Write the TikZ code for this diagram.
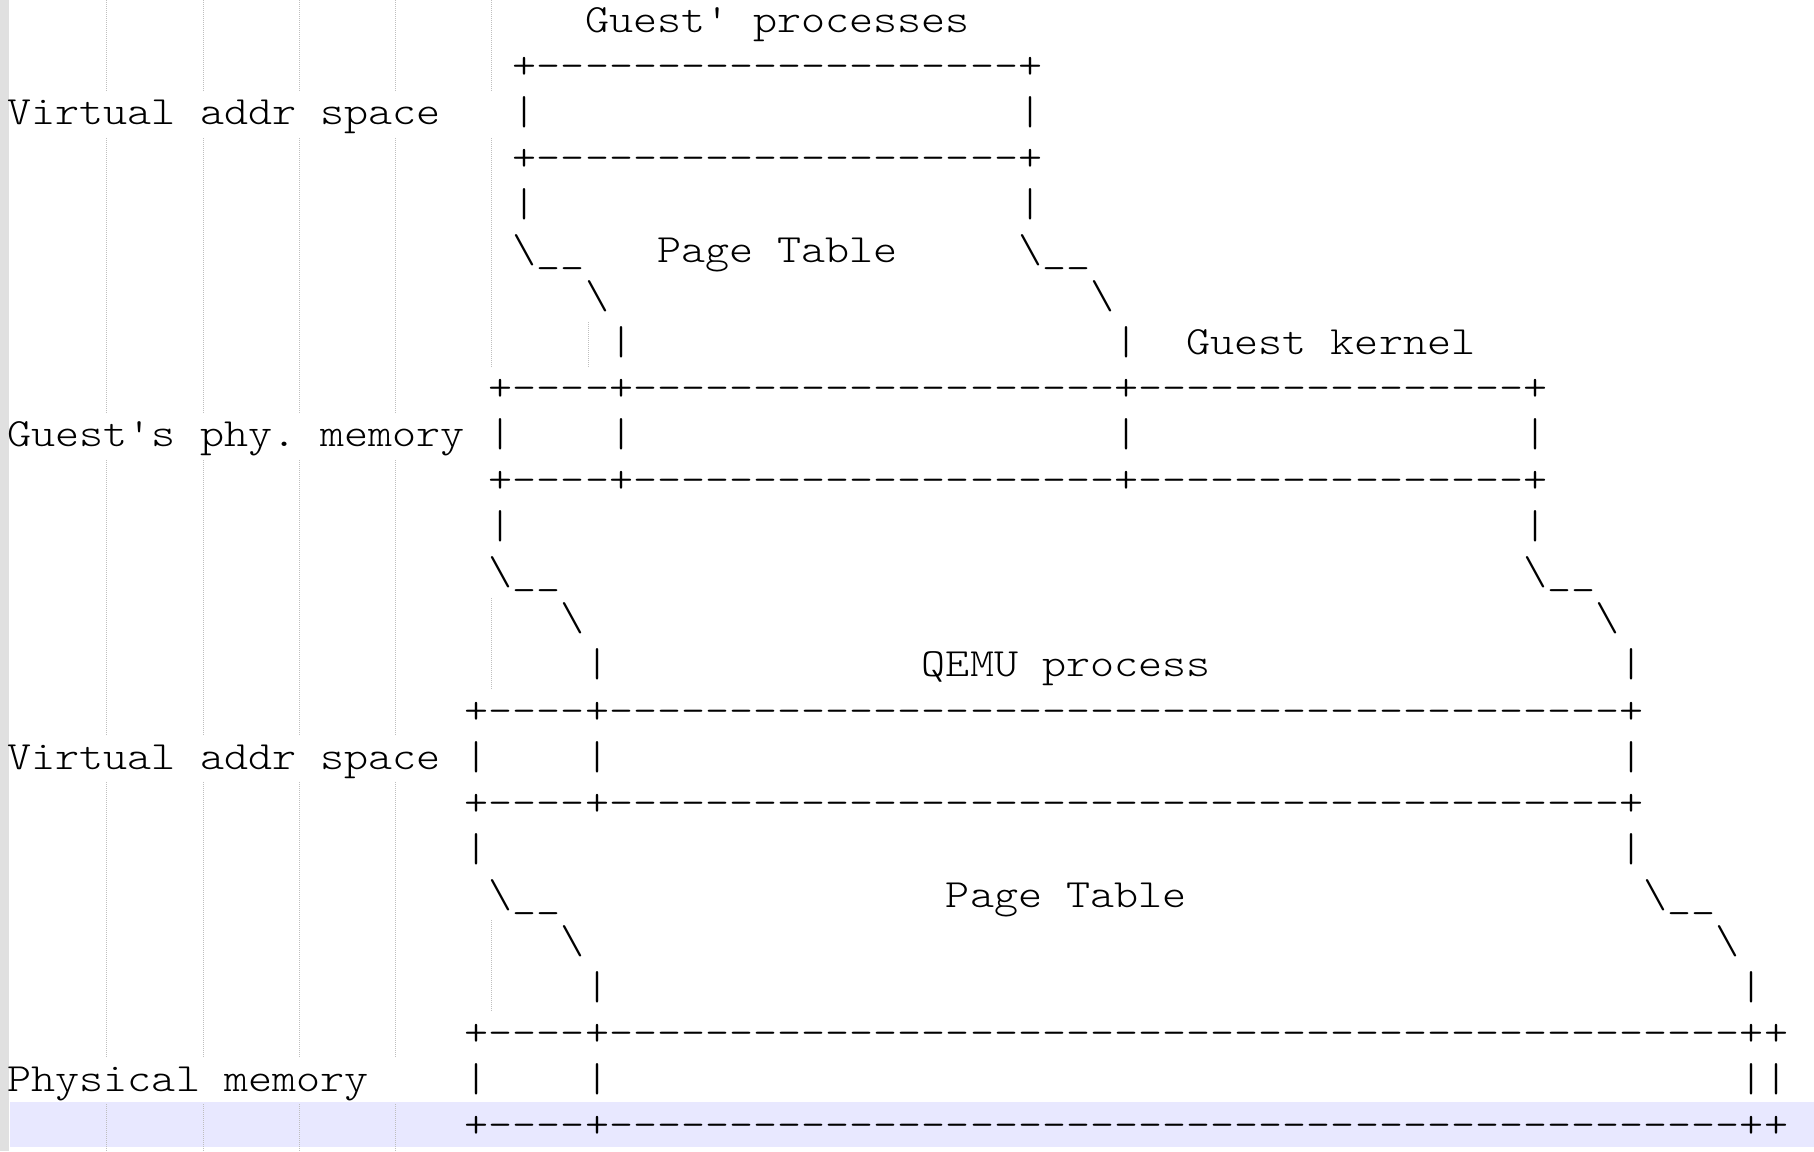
\documentclass[tikz,border=0pt]{standalone}
\usepackage{fontspec}
\setmonofont{lmmonolt10-regular.otf}[FakeStretch=1.1429]
\usepackage{xcolor}
\definecolor{gutter}{RGB}{224,224,224}
\definecolor{currentline}{RGB}{232,232,255}
\definecolor{guidegray}{RGB}{190,190,190}
\newcommand{\skipcols}[1]{\hspace*{#1\fontcharwd\font`M}}
\newcommand{\dashrun}[1]{\foreach \d in {1,...,#1}{-}}
\newcommand{\slant}{\textbackslash\_\_}
\tikzstyle{ascii}=[anchor=base west, inner sep=0pt, outer sep=0pt, font=\ttfamily\fontsize{20.05pt}{23pt}\selectfont\frenchspacing]
\tikzstyle{guide}=[draw=guidegray, line width=0.5pt, dash pattern=on 0.5pt off 0.5pt]

\begin{document}
\begin{tikzpicture}[x=12.03pt, y=-23pt]
  \useasboundingbox (-0.316,-0.717) rectangle (75.079,24.305);
  %% Editor things
  \fill[gutter] (-0.316,-0.717) rectangle (0.058,24.305);
  \fill[currentline] (0.1,23.24) rectangle (75.079,24.22);
  \draw[guide] (4.13,-0.717) -- (4.13,1.283) (4.13,2.283) -- (4.13,8.283) (4.13,9.283) -- (4.13,15.283) (4.13,16.283) -- (4.13,22.283) (4.13,23.283) -- (4.13,24.305);
  \draw[guide] (8.13,-0.717) -- (8.13,1.283) (8.13,2.283) -- (8.13,8.283) (8.13,9.283) -- (8.13,15.283) (8.13,16.283) -- (8.13,22.283) (8.13,23.283) -- (8.13,24.305);
  \draw[guide] (12.13,-0.717) -- (12.13,1.283) (12.13,2.283) -- (12.13,8.283) (12.13,9.283) -- (12.13,15.283) (12.13,16.283) -- (12.13,22.283) (12.13,23.283) -- (12.13,24.305);
  \draw[guide] (16.13,-0.717) -- (16.13,1.283) (16.13,2.283) -- (16.13,8.283) (16.13,9.283) -- (16.13,15.283) (16.13,16.283) -- (16.13,22.283) (16.13,23.283) -- (16.13,24.305);
  \draw[guide] (20.13,-0.717) -- (20.13,1.283) (20.13,2.283) -- (20.13,7.283) (20.13,12.283) -- (20.13,14.283) (20.13,19.283) -- (20.13,21.283);
  \draw[guide] (24.13,6.283) -- (24.13,7.283);

  %% Guest processes
  \draw (24,0) node[ascii] (gproc) {Guest' processes};
  \draw (21,1) node[ascii] (gvtop) {+\dashrun{20}+};
  \draw (0,2) node[ascii] (gvlabel) {Virtual addr space};
  \draw (21,2) node[ascii] (gvside) {|\skipcols{20}|};
  \draw (21,3) node[ascii] (gvbot) {+\dashrun{20}+};
  \draw (21,4) node[ascii] (gptA) {|\skipcols{20}|};
  \draw (21,5) node[ascii] (gptB) {\slant\skipcols{18}\slant};
  \draw (27,5) node[ascii] (gptlabel) {Page Table};
  \draw (24,6) node[ascii] (gptC) {\textbackslash\skipcols{20}\textbackslash};
  \draw (25,7) node[ascii] (gptD) {|\skipcols{20}|};
  \draw (49,7) node[ascii] (gkernel) {Guest kernel};

  %% Guest physical memory
  \draw (20,8) node[ascii] (gptop) {+\dashrun{4}+\dashrun{20}+\dashrun{16}+};
  \draw (0,9) node[ascii] (gplabel) {Guest's phy. memory};
  \draw (20,9) node[ascii] (gpside) {|\skipcols{4}|\skipcols{20}|\skipcols{16}|};
  \draw (20,10) node[ascii] (gpbot) {+\dashrun{4}+\dashrun{20}+\dashrun{16}+};
  \draw (20,11) node[ascii] (qptA) {|\skipcols{42}|};
  \draw (20,12) node[ascii] (qptB) {\slant\skipcols{40}\slant};
  \draw (23,13) node[ascii] (qptC) {\textbackslash\skipcols{42}\textbackslash};
  \draw (24,14) node[ascii] (qptD) {|\skipcols{42}|};
  \draw (38,14) node[ascii] (qproc) {QEMU process};

  %% QEMU virtual addr space
  \draw (19,15) node[ascii] (qvtop) {+\dashrun{4}+\dashrun{42}+};
  \draw (0,16) node[ascii] (qvlabel) {Virtual addr space};
  \draw (19,16) node[ascii] (qvside) {|\skipcols{4}|\skipcols{42}|};
  \draw (19,17) node[ascii] (qvbot) {+\dashrun{4}+\dashrun{42}+};
  \draw (19,18) node[ascii] (hptA) {|\skipcols{47}|};
  \draw (20,19) node[ascii] (hptB) {\slant\skipcols{45}\slant};
  \draw (39,19) node[ascii] (hptlabel) {Page Table};
  \draw (23,20) node[ascii] (hptC) {\textbackslash\skipcols{47}\textbackslash};
  \draw (24,21) node[ascii] (hptD) {|\skipcols{47}|};

  %% Physical memory
  \draw (19,22) node[ascii] (pmtop) {+\dashrun{4}+\dashrun{47}++};
  \draw (0,23) node[ascii] (pmlabel) {Physical memory};
  \draw (19,23) node[ascii] (pmside) {|\skipcols{4}|\skipcols{47}||};
  \draw (19,24) node[ascii] (pmbot) {+\dashrun{4}+\dashrun{47}++};
\end{tikzpicture}
\end{document}
